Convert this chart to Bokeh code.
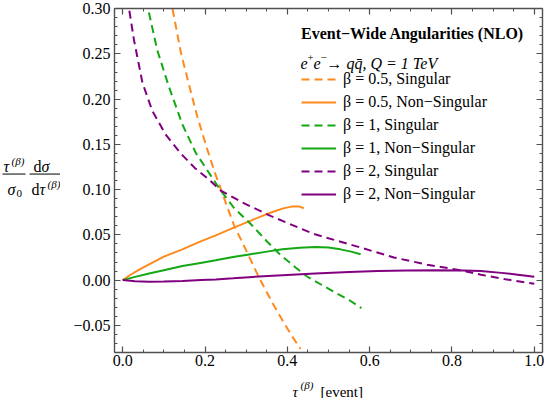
from bokeh.plotting import figure
from bokeh.models import (Range1d, LinearAxis, SingleIntervalTicker, CustomJSTickFormatter,
                          Legend, LegendItem, Label)
from bokeh.layouts import row, column
from bokeh.core.properties import value
from bokeh.embed import file_html
from bokeh.resources import INLINE

# ---------------- data ----------------
tau_b05_sing = [0.110, 0.121, 0.141, 0.161, 0.181, 0.205, 0.226, 0.250, 0.270, 0.303, 0.331, 0.360, 0.390, 0.410, 0.432]
val_b05_sing = [0.328, 0.300, 0.252, 0.216, 0.181, 0.145, 0.116, 0.086, 0.061, 0.030, 0.003, -0.022, -0.046, -0.061, -0.076]

tau_b05_ns = [0.000, 0.010, 0.020, 0.040, 0.064, 0.100, 0.145, 0.185, 0.226, 0.270, 0.307, 0.350, 0.388, 0.412, 0.428, 0.440]
val_b05_ns = [0.000, 0.0032, 0.0062, 0.0115, 0.0174, 0.026, 0.034, 0.042, 0.0495, 0.058, 0.065, 0.073, 0.079, 0.0815, 0.0815, 0.0795]

tau_b1_sing = [0.058, 0.0615, 0.084, 0.112, 0.145, 0.177, 0.222, 0.238, 0.270, 0.311, 0.350, 0.383, 0.420, 0.448, 0.513, 0.550, 0.580]
val_b1_sing = [0.310, 0.300, 0.254, 0.214, 0.172, 0.141, 0.110, 0.099, 0.080, 0.062, 0.043, 0.028, 0.014, 0.004, -0.013, -0.022, -0.031]

tau_b1_ns = [0.000, 0.030, 0.064, 0.100, 0.145, 0.189, 0.226, 0.268, 0.307, 0.350, 0.388, 0.430, 0.468, 0.500, 0.529, 0.555, 0.578]
val_b1_ns = [0.000, 0.0036, 0.0074, 0.011, 0.0155, 0.019, 0.022, 0.0255, 0.0284, 0.0315, 0.034, 0.0357, 0.0365, 0.036, 0.034, 0.0315, 0.0285]

tau_b2_sing = [0.013, 0.0153, 0.0275, 0.048, 0.072, 0.104, 0.141, 0.175, 0.210, 0.238, 0.290, 0.359, 0.464, 0.578, 0.659, 0.740, 0.820, 0.870, 0.930, 1.000]
val_b2_sing = [0.312, 0.300, 0.265, 0.218, 0.187, 0.161, 0.140, 0.124, 0.111, 0.099, 0.086, 0.071, 0.051, 0.036, 0.025, 0.017, 0.011, 0.006, 0.001, -0.004]

tau_b2_ns = [0.000, 0.030, 0.064, 0.100, 0.145, 0.190, 0.226, 0.268, 0.307, 0.388, 0.468, 0.550, 0.620, 0.690, 0.760, 0.830, 0.870, 0.920, 0.960, 1.000]
val_b2_ns = [0.000, -0.0012, -0.0018, -0.0016, -0.001, 0.000, 0.0007, 0.002, 0.0033, 0.0055, 0.0074, 0.009, 0.010, 0.0107, 0.011, 0.0105, 0.010, 0.008, 0.006, 0.0037]

labels = ["β = 0.5, Singular", "β = 0.5, Non−Singular",
          "β = 1, Singular", "β = 1, Non−Singular",
          "β = 2, Singular", "β = 2, Non−Singular"]
legend_title = "Event−Wide Angularities (NLO)"
subtitle_parts = [("e", 0, False), ("+", -6, True), ("e", 0, False), ("−", -6, True),
                  (" → qq̄, Q = 1 TeV", 0, False)]

# ---------------- layout (page pixels) ----------------
X0, X1 = -0.02, 1.02
Y0, Y1 = -0.08, 0.3002
PAGE_W, PAGE_H = 545, 398
YLAB_W = 60                 # left strip holding the y-axis label
MAIN_W = PAGE_W - YLAB_W    # 485
MAIN_H = 374
XLAB_H = PAGE_H - MAIN_H    # 24
FL, FR, FT, FB = 114, 542, 8, 352   # frame edges on the page
ML = FL - YLAB_W
MR = PAGE_W - FR
MT = FT
MB = MAIN_H - FB

def dx(px):
    return X0 + (px - FL) / (FR - FL) * (X1 - X0)

def dy(py):
    return Y1 - (py - FT) / (FB - FT) * (Y1 - Y0)

GRAY = "#505050"
FONT = "Liberation Serif"
ORANGE, GREEN, PURPLE = "#ff8a1c", "#14a814", "#800080"
FS = "16px"

p = figure(width=MAIN_W, height=MAIN_H, x_range=Range1d(X0, X1), y_range=Range1d(Y0, Y1),
           output_backend="svg", toolbar_location=None,
           x_axis_location=None, y_axis_location=None,
           min_border_left=ML, min_border_right=MR, min_border_top=MT, min_border_bottom=MB)
p.grid.visible = False
p.outline_line_color = None
p.background_fill_color = "white"
p.border_fill_color = "white"

xfmt = CustomJSTickFormatter(code="return Math.abs(tick) < 1e-9 ? '0.0' : tick.toFixed(1);")
yfmt = CustomJSTickFormatter(code="if (Math.abs(tick) < 1e-9) return '0.00'; return (tick < 0 ? '\u2212' : '') + Math.abs(tick).toFixed(2);")
nofmt = CustomJSTickFormatter(code="return '';")

def make_axis(kind, labeled, fmt, standoff=4):
    ticker = SingleIntervalTicker(interval=0.2, num_minor_ticks=4) if kind == "x" else \
        SingleIntervalTicker(interval=0.05, num_minor_ticks=5)
    ax = LinearAxis(ticker=ticker, formatter=fmt if labeled else nofmt)
    ax.axis_line_color = GRAY
    ax.axis_line_width = 1.4
    ax.major_tick_line_color = GRAY
    ax.minor_tick_line_color = GRAY
    ax.major_tick_line_width = 1.2
    ax.minor_tick_line_width = 1.0
    ax.major_tick_in = 6
    ax.major_tick_out = 0
    ax.minor_tick_in = 3
    ax.minor_tick_out = 0
    ax.major_label_text_font = FONT
    ax.major_label_text_font_size = FS if labeled else "0px"
    ax.major_label_text_color = "black"
    ax.major_label_standoff = standoff if labeled else 0
    return ax

p.add_layout(make_axis("x", True, xfmt, standoff=2), "below")
p.add_layout(make_axis("y", True, yfmt, standoff=4), "left")
p.add_layout(make_axis("x", False, None), "above")
p.add_layout(make_axis("y", False, None), "right")

DASH = "8 5"
r1 = p.line(tau_b05_sing, val_b05_sing, line_color=ORANGE, line_width=2, line_dash=DASH)
r2 = p.line(tau_b05_ns, val_b05_ns, line_color=ORANGE, line_width=2)
r3 = p.line(tau_b1_sing, val_b1_sing, line_color=GREEN, line_width=2, line_dash=DASH)
r4 = p.line(tau_b1_ns, val_b1_ns, line_color=GREEN, line_width=2)
r5 = p.line(tau_b2_sing, val_b2_sing, line_color=PURPLE, line_width=2, line_dash=DASH)
r6 = p.line(tau_b2_ns, val_b2_ns, line_color=PURPLE, line_width=2)

items = [LegendItem(label=l, renderers=[r]) for l, r in zip(labels, [r1, r2, r3, r4, r5, r6])]
legend = Legend(items=items, title=legend_title,
                title_text_font=FONT, title_text_font_style="bold", title_text_font_size=FS,
                title_text_color="black", title_standoff=26,
                label_text_font=FONT, label_text_font_size=FS, label_text_color="black",
                glyph_width=35, glyph_height=20, label_height=20, label_standoff=7,
                spacing=3, padding=8, margin=0,
                background_fill_alpha=0, border_line_alpha=0,
                location=(301 - 8 - FL, FB - 212))
p.add_layout(legend)

# legend subtitle  e+e- -> q qbar, Q = 1 TeV  (superscripts as raised small text)
sub_x = [300, 307, 313, 320, 326]
for (t, rise, small), sx in zip(subtitle_parts, sub_x):
    p.add_layout(Label(x=dx(sx), y=dy(63 + rise), text=t, text_font=FONT,
                       text_font_size="11px" if small else FS,
                       text_font_style="normal" if small else "italic",
                       text_baseline="alphabetic", text_color="black"))

# ---------------- y-axis label strip ----------------
yl = figure(width=YLAB_W, height=MAIN_H, x_range=Range1d(0, YLAB_W), y_range=Range1d(MAIN_H, 0),
            output_backend="svg", toolbar_location=None, x_axis_location=None, y_axis_location=None,
            min_border=0, min_border_left=0, min_border_right=0, min_border_top=0, min_border_bottom=0)
yl.grid.visible = False
yl.outline_line_color = None
yl.border_fill_color = "white"

def txt(fig, px, py, text, size="16px", style="normal"):
    fig.text(x=[px], y=[py], text=[text], text_font=value(FONT), text_font_size=size,
             text_font_style=style, text_align="left", text_baseline="alphabetic", text_color="black")

txt(yl, 3, 172, "τ", style="italic")
txt(yl, 11, 166, "(β)", size="11px", style="italic")
txt(yl, 7, 197, "σ", style="italic")
txt(yl, 16, 201, "0", size="11px")
txt(yl, 33, 172, "d")
txt(yl, 41, 172, "σ", style="italic")
txt(yl, 31, 197, "d")
txt(yl, 39, 197, "τ", style="italic")
txt(yl, 47, 191, "(β)", size="11px", style="italic")
yl.segment(x0=[2, 29], y0=[180, 180], x1=[25, 61], y1=[180, 180], line_color="black", line_width=1)

# ---------------- x-axis label strip ----------------
xl = figure(width=PAGE_W, height=XLAB_H, x_range=Range1d(0, PAGE_W), y_range=Range1d(PAGE_H, MAIN_H),
            output_backend="svg", toolbar_location=None, x_axis_location=None, y_axis_location=None,
            min_border=0, min_border_left=0, min_border_right=0, min_border_top=0, min_border_bottom=0)
xl.grid.visible = False
xl.outline_line_color = None
xl.border_fill_color = "white"

txt(xl, 292, 391, "τ", size="15px", style="italic")
txt(xl, 300, 384, "(β)", size="11px", style="italic")
txt(xl, 320, 391, "[event]", size="15px")

layout = column(row(yl, p), xl)
open("out.html", "w").write(file_html(layout, INLINE))
